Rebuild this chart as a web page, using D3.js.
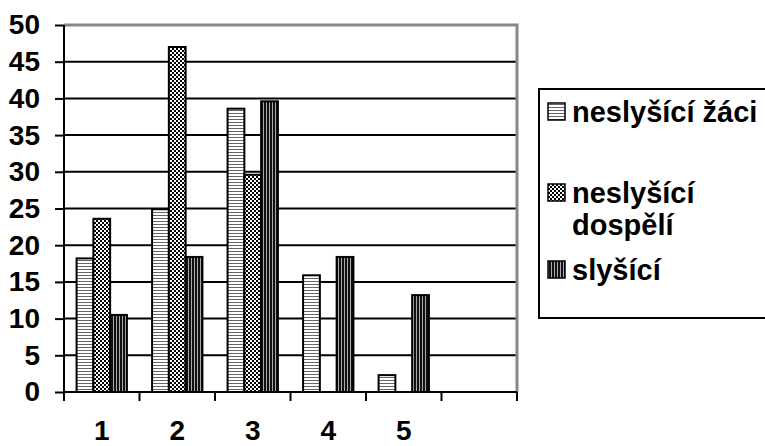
<!DOCTYPE html>
<html><head><meta charset="utf-8">
<script src="https://cdn.jsdelivr.net/npm/d3@7"></script>
<style>body{margin:0;background:#fff}svg{display:block;font-family:"Liberation Sans",Arial,sans-serif;font-weight:bold}</style>
</head><body><svg id="c" width="765" height="446"></svg>
<script>
const categories = ["1","2","3","4","5",""];
const seriesNames = ["neslyšící žáci","neslyšící dospělí","slyšící"];
const zaci    = [18.2, 24.9, 38.6, 15.9, 2.3, null];
const dospeli = [23.6, 47.0, 29.6, null, null, null];
const slysici = [10.5, 18.4, 39.6, 18.4, 13.2, null];
const yTicks = [0,5,10,15,20,25,30,35,40,45,50];
const seriesValues = [zaci, dospeli, slysici];

const svg = d3.select("#c");
const L=64, R=517, T=25, B=392;
const defs = svg.append("defs");
// horizontal lines
const p1 = defs.append("pattern").attr("id","p0").attr("patternUnits","userSpaceOnUse").attr("width",4).attr("height",3);
p1.append("rect").attr("width",4).attr("height",3).attr("fill","#fff");
p1.append("rect").attr("y",2).attr("width",4).attr("height",1).attr("fill","#666");
// checker
const p2 = defs.append("pattern").attr("id","p1").attr("patternUnits","userSpaceOnUse").attr("width",4).attr("height",4);
p2.append("rect").attr("width",4).attr("height",4).attr("fill","#fff");
p2.append("rect").attr("width",2).attr("height",2).attr("fill","#000");
p2.append("rect").attr("x",2).attr("y",2).attr("width",2).attr("height",2).attr("fill","#000");
// dark vertical
const p3 = defs.append("pattern").attr("id","p2").attr("patternUnits","userSpaceOnUse").attr("width",3).attr("height",4);
p3.append("rect").attr("width",3).attr("height",4).attr("fill","#111");
p3.append("rect").attr("x",2).attr("width",1).attr("height",4).attr("fill","#aaa");

const x = d3.scaleBand().domain(categories.map((c,i)=>i)).range([L,R]).padding(0);
const w = x.bandwidth()/4.5;
const xs = d3.scaleBand().domain([0,1,2]).range([0.75*w, 3.75*w]).padding(0);
const y = d3.scaleLinear().domain([0,50]).range([B,T]);

// gridlines
svg.append("g").selectAll("line").data(yTicks.filter(t=>t>0&&t<50)).join("line")
  .attr("x1",L).attr("x2",R).attr("y1",d=>y(d)).attr("y2",d=>y(d))
  .attr("stroke","#000").attr("stroke-width",2);
// gray border top/right
svg.append("path").attr("d",`M${L},${y(50)}H${R}V${B}`).attr("fill","none").attr("stroke","#888").attr("stroke-width",3);

// bars
seriesValues.forEach((vals,si)=>{
  svg.append("g").selectAll("rect").data(vals.map((v,i)=>({v,i})).filter(d=>d.v!=null)).join("rect")
    .attr("x",d=>x(d.i)+xs(si)).attr("width",xs.bandwidth())
    .attr("y",d=>y(d.v)).attr("height",d=>y(0)-y(d.v))
    .attr("fill",`url(#p${si})`).attr("stroke","#000").attr("stroke-width",2);
});

const FF = "Liberation Sans, Arial, sans-serif";
// y axis
const ya = svg.append("g").attr("transform",`translate(${L},0)`)
  .call(d3.axisLeft(y).tickValues(yTicks).tickSize(9).tickPadding(15));
ya.select(".domain").attr("stroke","#000").attr("stroke-width",2).attr("d",`M0,${y(50)}V${B+8}`);
ya.selectAll(".tick line").attr("stroke","#000").attr("stroke-width",2);
ya.selectAll("text").attr("font-size",28).attr("font-weight","bold").attr("fill","#000").attr("font-family",FF);

// x axis
const xa = svg.append("g").attr("transform",`translate(0,${B})`)
  .call(d3.axisBottom(x).tickSize(0).tickFormat(i=>categories[i]));
xa.select(".domain").attr("stroke","#000").attr("stroke-width",2).attr("d",`M${L},0H${R}`);
xa.selectAll("text").attr("font-size",28).attr("font-weight","bold").attr("fill","#000")
  .attr("font-family",FF).attr("y",48).attr("dy",0);
const bounds = categories.map((c,i)=>x(i)).concat([R]);
xa.append("g").selectAll("line").data(bounds).join("line")
  .attr("x1",d=>d).attr("x2",d=>d).attr("y1",0).attr("y2",9).attr("stroke","#000").attr("stroke-width",2);

// legend
const lg = svg.append("g");
lg.append("rect").attr("x",539).attr("y",89).attr("width",240).attr("height",229)
  .attr("fill","#fff").attr("stroke","#000").attr("stroke-width",2);
const items = [
  {lines:["neslyšící žáci"], y:122},
  {lines:["neslyšící","dospělí"], y:203},
  {lines:["slyšící"], y:280}
];
items.forEach((it,i)=>{
  lg.append("rect").attr("x",548).attr("y",it.y-19).attr("width",17).attr("height",17)
    .attr("fill",`url(#p${i})`).attr("stroke","#000").attr("stroke-width",1.5);
  const t = lg.append("text").attr("x",572).attr("y",it.y).attr("font-size",29).attr("fill","#000").attr("font-family",FF);
  it.lines.forEach((ln,j)=>t.append("tspan").attr("x",572).attr("dy",j?32:0).text(ln));
});
</script></body></html>
